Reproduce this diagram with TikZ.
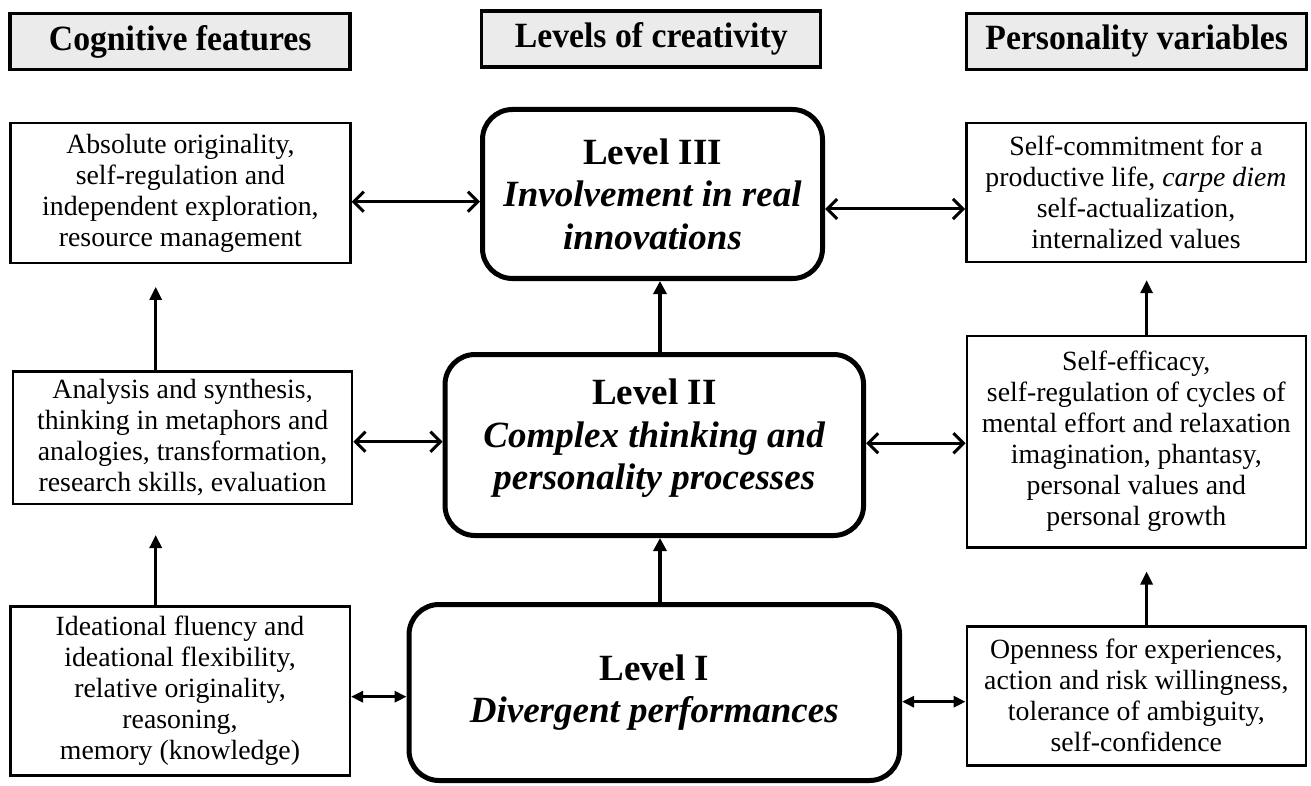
\documentclass[tikz,border=0pt]{standalone}
\usepackage{fontspec}
\setmainfont{Liberation Serif}
\newfontfamily\hdrfamily{Liberation Serif}[FakeStretch=0.95]
\usetikzlibrary{arrows.meta}

\definecolor{hdrgray}{HTML}{EBEBEB}
\newcommand{\hdrfont}{\hdrfamily\fontsize{35.5}{40}\selectfont\bfseries}
\newcommand{\bodyfont}{\fontsize{27.8}{31}\selectfont}
\newcommand{\lvlfont}{\fontsize{37}{42.5}\selectfont}

\tikzset{
  hdr/.style={draw, line width=3.5pt, fill=hdrgray, minimum height=56,
    inner sep=0pt, font=\hdrfont},
  infobox/.style={draw, line width=2.5pt, align=center, inner sep=0pt,
    font=\bodyfont},
  levelbox/.style={draw, line width=5pt, rounded corners=30pt, align=center,
    inner sep=0pt, font=\lvlfont},
  twoway/.style={line width=3pt, {Straight Barb[length=10pt,width=20pt]}-{Straight Barb[length=10pt,width=20pt]}},
  twowaysmall/.style={line width=3pt, {Triangle[length=12pt,width=11pt]}-{Triangle[length=12pt,width=11pt]}},
  upward/.style={line width=3pt, -{Triangle[length=13pt,width=12pt]}},
  upwardbold/.style={line width=4.5pt, -{Triangle[length=13pt,width=13pt]}}
}

\begin{document}
\begin{tikzpicture}[x=1pt, y=-1pt]
  \useasboundingbox (0,0) rectangle (1311,786);

  % column headers
  \node[hdr, minimum width=340] (hC) at (180.2,41.5) {Cognitive features};
  \node[hdr, minimum width=339] (hL) at (651.2,39)   {Levels of creativity};
  \node[hdr, minimum width=340] (hP) at (1136.7,41.5) {Personality variables};

  % cognitive features
  \node[infobox, minimum width=340, minimum height=140] (A) at (180.4,192.9)
    {Absolute originality,\\ self-regulation and\\ independent exploration,\\ resource management};
  \node[infobox, minimum width=339, minimum height=132.5] (B) at (182.6,437.5)
    {Analysis and synthesis,\\ thinking in metaphors and\\ analogies, transformation,\\ research skills, evaluation};
  \node[infobox, minimum width=339.5, minimum height=169] (C) at (180,690.8)
    {Ideational fluency and\\ ideational flexibility,\\ relative originality,\\ reasoning,\\ memory (knowledge)};

  % levels of creativity
  \node[levelbox, minimum width=340, minimum height=169] (L3) at (652.5,194)
    {\textbf{Level III}\\ \textbf{\textit{Involvement in real}}\\ \textbf{\textit{innovations}}};
  \node[levelbox, minimum width=418.5, minimum height=181] (L2) at (654.3,445)
    {\textbf{Level II}\\ \textbf{\textit{Complex thinking and}}\\ \textbf{\textit{personality processes}}\\[-34pt]\strut};
  \node[levelbox, minimum width=490.5, minimum height=176] (L1) at (654.3,692.5)
    {\textbf{Level I}\\ \textbf{\textit{Divergent performances}}};

  % personality variables
  \node[infobox, minimum width=339.5, minimum height=139] (D) at (1136,192.4)
    {Self-commitment for a\\ productive life, \textit{carpe diem}\\ self-actualization,\\ internalized values};
  \node[infobox, minimum width=339, minimum height=211.5] (E) at (1136.3,441.5)
    {Self-efficacy,\\ self-regulation of cycles of\\ mental effort and relaxation\\ imagination, phantasy,\\ personal values and\\ personal growth};
  \node[infobox, minimum width=339, minimum height=139] (F) at (1136.3,695.8)
    {Openness for experiences,\\ action and risk willingness,\\ tolerance of ambiguity,\\ self-confidence};

  % guide coordinates for the connectors
  \coordinate (xl) at (155.7,0);
  \coordinate (xc) at (660,0);
  \coordinate (xr) at (1146.6,0);
  \coordinate (yA) at (0,201.7);
  \coordinate (yD) at (0,209);
  \coordinate (yB) at (0,441.7);
  \coordinate (yE) at (0,443.3);
  \coordinate (yC) at (0,696.7);
  \coordinate (yF) at (0,701.7);

  % horizontal links
  \draw[twoway] (A.east |- yA) -- (L3.west |- yA);
  \draw[twoway] (L3.east |- yD) -- (D.west |- yD);
  \draw[twoway] (B.east |- yB) -- (L2.west |- yB);
  \draw[twoway] (L2.east |- yE) -- (E.west |- yE);
  \draw[twowaysmall] (C.east |- yC) -- (L1.west |- yC);
  \draw[twowaysmall] (L1.east |- yF) -- (F.west |- yF);

  % upward progression
  \draw[upward, shorten >=22.7pt] (B.north -| xl) -- (A.south -| xl);
  \draw[upward, shorten >=30pt]   (C.north -| xl) -- (B.south -| xl);
  \draw[upward, shorten >=17pt]   (E.north -| xr) -- (D.south -| xr);
  \draw[upward, shorten >=23pt]   (F.north -| xr) -- (E.south -| xr);
  \draw[upwardbold] (L2.north -| xc) -- (L3.south -| xc);
  \draw[upwardbold] (L1.north -| xc) -- (L2.south -| xc);
\end{tikzpicture}
\end{document}
